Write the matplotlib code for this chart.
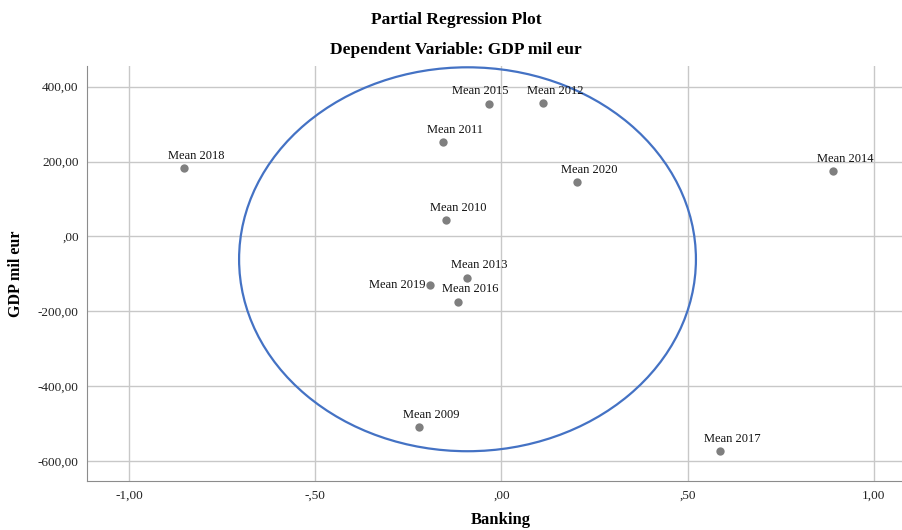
import numpy as np
import matplotlib
matplotlib.use('Agg')
from matplotlib import pyplot as plt
from matplotlib.patches import Ellipse
from matplotlib.ticker import FuncFormatter, MultipleLocator

plt.rcParams.update({'font.family': ['Liberation Serif', 'DejaVu Serif'], 'font.size': 9})

# partial residuals per year
labels = ['Mean 2009', 'Mean 2010', 'Mean 2011', 'Mean 2012', 'Mean 2013', 'Mean 2014',
          'Mean 2015', 'Mean 2016', 'Mean 2017', 'Mean 2018', 'Mean 2019', 'Mean 2020']
banking = [-0.221, -0.149, -0.157, 0.112, -0.092, 0.890,
           -0.034, -0.116, 0.587, -0.852, -0.192, 0.202]
gdp = [-509, 43, 252, 356, -111, 174,
       354, -175, -573, 182, -129, 144]

# highlighted cluster
ell_center = (-0.091, -61)
ell_width = 1.227
ell_height = 1025


def comma_fmt(v, pos):
    s = '%.2f' % v
    s = s.replace('.', ',')
    if s.startswith('0,'):
        s = s[1:]
    elif s.startswith('-0,'):
        s = '-' + s[2:]
    return s


fig = plt.figure(figsize=(9.03, 5.30), dpi=100)
ax = fig.add_axes([87 / 903, 49 / 530, 815 / 903, 415 / 530])

ax.set_xlim(-1.113, 1.076)
ax.set_ylim(-653, 455)
ax.xaxis.set_major_locator(MultipleLocator(0.5))
ax.yaxis.set_major_locator(MultipleLocator(200))
ax.xaxis.set_major_formatter(FuncFormatter(comma_fmt))
ax.yaxis.set_major_formatter(FuncFormatter(comma_fmt))
ax.tick_params(length=0, labelsize=9.5, pad=6, colors='#222222')
ax.grid(True, color='#c8c8c8', lw=1)
ax.set_axisbelow(True)
for side in ['top', 'right']:
    ax.spines[side].set_visible(False)
for side in ['left', 'bottom']:
    ax.spines[side].set_color('#8c8c8c')

ax.scatter(banking, gdp, s=36, color='#7f7f7f', zorder=3, linewidths=0)

for lab, x, y in zip(labels, banking, gdp):
    dx, dy, ha = 9, 9, 'center'
    if lab == 'Mean 2015':
        dx = -6
    if lab == 'Mean 2019':
        dx, dy, ha = -3, 0, 'right'
    ax.annotate(lab, (x, y), xytext=(dx, dy), textcoords='offset points',
                ha=ha, va='center', fontsize=9, color='#111111', zorder=4)

ax.add_patch(Ellipse(ell_center, ell_width, ell_height, fill=False,
                     edgecolor='#4472c4', lw=1.6, zorder=2))

ax.set_ylabel('GDP mil eur', fontsize=11.5, fontweight='bold', labelpad=10)
fig.text(501 / 903, 1 - 520 / 530, 'Banking', ha='center', va='center',
         fontsize=12, fontweight='bold')

fig.text(456 / 903, 1 - 20 / 530, 'Partial Regression Plot', ha='center', va='center',
         fontsize=12.5, fontweight='bold')
fig.text(456 / 903, 1 - 50 / 530, 'Dependent Variable: GDP mil eur', ha='center', va='center',
         fontsize=12.5, fontweight='bold')

fig.savefig('out.png', dpi=100)
